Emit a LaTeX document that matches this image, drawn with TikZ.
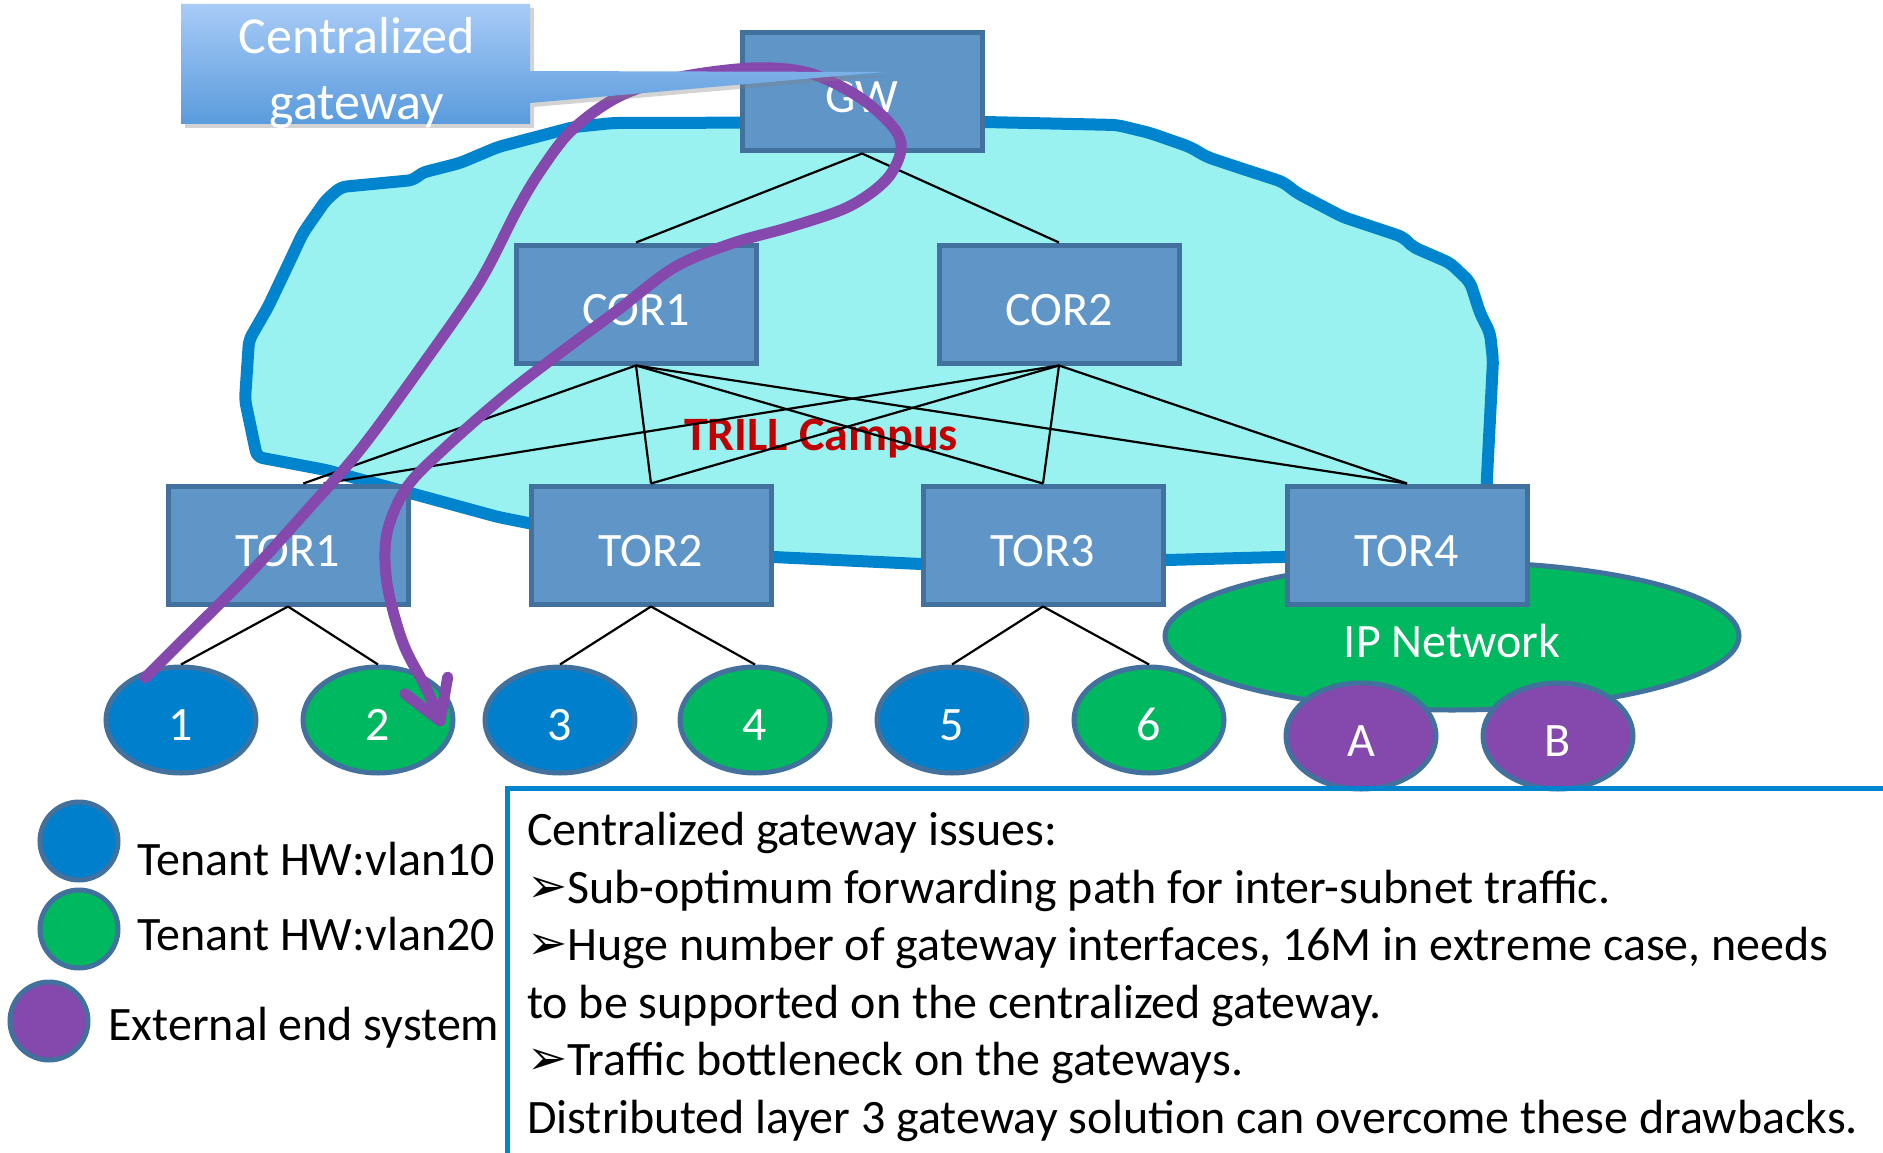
\documentclass[tikz,border=0pt]{standalone}
\usepackage{fontspec}
\setmainfont{Carlito}
\newfontfamily\dingfont{DejaVu Sans}
\usetikzlibrary{shapes.geometric,arrows.meta,shadows}
\definecolor{boxfill}{HTML}{6095C8}
\definecolor{boxedge}{HTML}{41719C}
\definecolor{hostblue}{HTML}{0080CC}
\definecolor{hostgreen}{HTML}{00B860}
\definecolor{hostpurple}{HTML}{8548AD}
\definecolor{campusfill}{HTML}{99F2F0}
\definecolor{campusedge}{HTML}{0084CE}
\definecolor{trillred}{HTML}{C00000}
\definecolor{calltop}{HTML}{A8CBF7}
\definecolor{callbot}{HTML}{5A9BDC}
\newcommand{\bigtxt}{\fontsize{48}{57.5}\selectfont}
\newcommand{\bul}{{\dingfont\fontsize{48}{57.5}\selectfont\raisebox{1pt}{➢}}}
\tikzset{
  sw/.style={draw=boxedge, fill=boxfill, line width=5pt, minimum width=240pt,
    minimum height=118pt, text=white, font=\bigtxt, text height=42pt, text depth=0pt},
  host/.style={ellipse, draw=boxedge, line width=5pt, minimum width=150pt,
    minimum height=106pt, text=white, font=\bigtxt, text height=40pt, text depth=0pt},
  key/.style={circle, draw=boxedge, line width=5pt, minimum size=78pt},
  link/.style={line width=2.2pt},
  campus/.style={draw=campusedge, fill=campusfill, line width=12pt, rounded corners=6pt},
  route/.style={draw=hostpurple, line width=11pt, line cap=round,
    -{Straight Barb[length=38pt,width=46pt,round]}},
}
\begin{document}
\begin{tikzpicture}[x=1pt,y=-1pt]
  \useasboundingbox (0,0) rectangle (1883,1153);
  % TRILL campus cloud
  \draw[campus] (257,457) -- (245,400) -- (249,340) -- (268,307) -- (287,267)
    -- (303,233) -- (326,200) -- (341,187) -- (414,180) -- (421,173) -- (460,163)
    -- (498,147) -- (536,137) -- (574,127) -- (613,123) -- (985,122) -- (1117,125)
    -- (1150,133) -- (1190,147) -- (1207,157) -- (1237,167) -- (1283,182)
    -- (1297,193) -- (1343,217) -- (1403,237) -- (1413,247) -- (1450,263)
    -- (1470,282) -- (1480,313) -- (1490,333) -- (1493,360) -- (1487,477)
    -- (1485,540) -- (1460,555) -- (1280,557) -- (1167,560) -- (921,564)
    -- (773,557) -- (650,545) -- (528,523) -- (498,517) -- (410,493)
    -- (326,470) -- cycle;
  \node[font=\bfseries\bigtxt, text=trillred] (trill) at (821,439) {TRILL Campus};
  \node[host, fill=hostgreen, minimum width=574pt, minimum height=148pt]
    (ipnet) at (1452,636) {\raisebox{-1pt}{IP Network}};
  \draw
    (862,92) node[sw] (gw) {GW}
    (636,304) node[sw] (cor1) {COR1}
    (1059,304) node[sw] (cor2) {COR2}
    (288,545) node[sw] (tor1) {TOR1}
    (651,545) node[sw] (tor2) {TOR2}
    (1043,545) node[sw] (tor3) {TOR3}
    (1407,545) node[sw] (tor4) {TOR4};
  \draw
    (181,720) node[host, fill=hostblue] (h1) {1}
    (378,720) node[host, fill=hostgreen] (h2) {2}
    (560,720) node[host, fill=hostblue] (h3) {3}
    (755,720) node[host, fill=hostgreen] (h4) {4}
    (952,720) node[host, fill=hostblue] (h5) {5}
    (1149,720) node[host, fill=hostgreen] (h6) {6}
    (1361,736) node[host, fill=hostpurple] (ha) {A}
    (1558,736) node[host, fill=hostpurple] (hb) {B};
  \begin{scope}[link]
    \draw (gw.south) to (cor1.north);
    \draw (gw.south) to (cor2.north);
    \draw (cor1.south) to (tor1.76);
    \draw (cor2.south) to (tor1.60);
    \foreach \c in {cor1,cor2}
      \foreach \t in {tor2,tor3,tor4}
        \draw (\c.south) to (\t.north);
    \draw (tor1.south) to (h1.north);
    \draw (tor1.south) to (h2.north);
    \draw (tor2.south) to (h3.north);
    \draw (tor2.south) to (h4.north);
    \draw (tor3.south) to (h5.north);
    \draw (tor3.south) to (h6.north);
  \end{scope}
  % path through the gateway
  \coordinate (from) at (145,678);
  \coordinate (to) at (442,726);
  \draw[route] plot[smooth, tension=0.55] coordinates {(from) (183,640) (250,573)
    (310,507) (360,450) (421,367) (479,283) (517,210) (541,170) (572,130)
    (618,97) (675,78) (752,68) (809,73) (859,97) (893,127) (901,150) (886,180)
    (848,207) (790,227) (733,243) (675,267) (618,310) (560,353) (503,397)
    (446,447) (407,487) (387,533) (387,583) (403,643) (427,690) (to)};
  % callout
  \path[drop shadow={opacity=0.35,shadow xshift=4pt,shadow yshift=-4pt},
    top color=calltop, bottom color=callbot]
    (181,4) -- (530,4) -- (530,71) -- (884,72) -- (530,103) -- (530,124)
    -- (181,124) -- cycle;
  \node[align=center, text=white, font=\fontsize{52}{66}\selectfont] (callout)
    at (357,73) {Centralized\\gateway};
  % legend
  \node[key, fill=hostblue] (k1) at (79,841) {};
  \node[key, fill=hostgreen] (k2) at (79,929) {};
  \node[key, fill=hostpurple] (k3) at (49,1021) {};
  \node[anchor=base west, font=\bigtxt, inner sep=0pt] (k1txt) at (137,875) {Tenant HW:vlan10};
  \node[anchor=base west, font=\bigtxt, inner sep=0pt] (k2txt) at (137,950) {Tenant HW:vlan20};
  \node[anchor=base west, font=\bigtxt, inner sep=0pt] (k3txt) at (108,1040) {External end system};
  % issues box
  \draw[campusedge, line width=5pt] (507,1180) -- (507,788) -- (1900,788);
  \node[anchor=north west, align=left, inner sep=0pt, font=\bigtxt] (issues) at (527,812)
    {Centralized gateway issues:\\
     \bul Sub-optimum forwarding path for inter-subnet traffic.\\
     \bul Huge number of gateway interfaces, 16M in extreme case, needs\\
     to be supported on the centralized gateway.\\
     \bul Traffic bottleneck on the gateways.\\
     Distributed layer 3 gateway solution can overcome these drawbacks.};
\end{tikzpicture}
\end{document}
